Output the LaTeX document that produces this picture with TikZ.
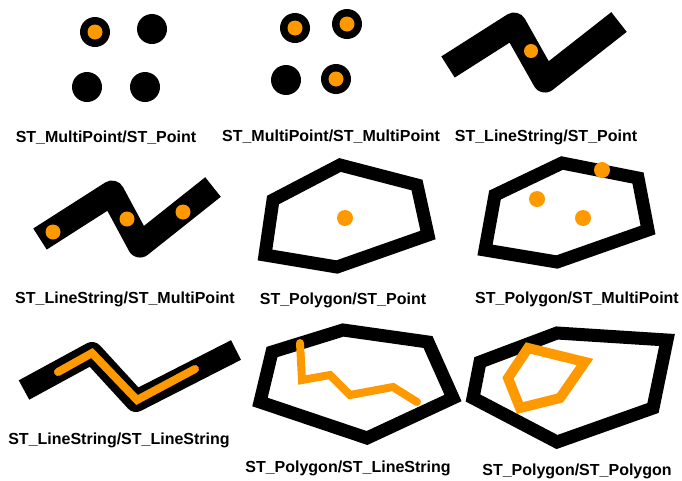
\documentclass[tikz,border=0pt]{standalone}
\usepackage{fontspec}
\setmainfont{Liberation Sans}
\definecolor{hitorange}{HTML}{FF9900}
\tikzset{
  geomline/.style={draw=black, line width=25pt, line cap=butt, line join=round},
  geompoly/.style={draw=black, line width=13pt, line join=miter},
  hitline/.style={draw=hitorange, line width=8pt, line cap=round, line join=miter},
  hitpoly/.style={draw=hitorange, line width=10pt, line join=miter},
  caption/.style={font=\bfseries\fontsize{16}{19}\selectfont, inner sep=0pt, anchor=base}
}

\begin{document}
\begin{tikzpicture}[x=1pt, y=-1pt]
  \fill[white] (0,0) rectangle (682,480);
  \useasboundingbox (0,0) rectangle (682,480);
  % row 1: multipoints
  \foreach \x/\y/\hit in {95/32/1, 152/29/0, 87/87/0, 145/87/0,
                          295/28/1, 347/24/1, 286/80/0, 336/79/1} {
    \fill (\x,\y) circle (15pt);
    \ifnum\hit=1 \fill[hitorange] (\x,\y) circle (7.5pt); \fi
  }
  \node[caption] (capmpp) at (106,142) {ST\_MultiPoint/ST\_Point};
  \node[caption] (capmpm) at (331,141) {ST\_MultiPoint/ST\_MultiPoint};
  % linestring with one point
  \draw[geomline] (448,67) -- (514,25) -- (545,80) -- (619,22);
  \fill[hitorange] (531,51) circle (7pt);
  \node[caption] (caplsp) at (546,141) {ST\_LineString/ST\_Point};
  % row 2: linestring with points
  \draw[geomline] (40,239) -- (112,193) -- (140,245) -- (213,187);
  \foreach \x/\y in {53/232, 127/219, 183/212} \fill[hitorange] (\x,\y) circle (7.5pt);
  \node[caption] (caplsm) at (125,303) {ST\_LineString/ST\_MultiPoint};
  % polygons with points
  \draw[geompoly] (340,165) -- (417,185) -- (428,235) -- (337,267) -- (265,255) -- (273,200) -- cycle;
  \fill[hitorange] (345,218) circle (8pt);
  \node[caption] (cappgp) at (343,304) {ST\_Polygon/ST\_Point};
  \draw[geompoly] (562,163) -- (638,178) -- (648,230) -- (557,262) -- (485,250) -- (495,195) -- cycle;
  \foreach \x/\y in {602/170, 537/199, 583/218} \fill[hitorange] (\x,\y) circle (8pt);
  \node[caption] (cappgm) at (577,303) {ST\_Polygon/ST\_MultiPoint};
  % row 3: linestrings and polygons
  \draw[geomline, line width=22pt] (24,390) -- (92,353) -- (136,401) -- (236,350);
  \draw[hitline] (58,372) -- (92,353) -- (137,400) -- (195,369);
  \node[caption] (caplsl) at (119,444) {ST\_LineString/ST\_LineString};
  \draw[geompoly] (343,330) -- (428,342) -- (453,398) -- (367,438) -- (260,402) -- (272,352) -- cycle;
  \draw[hitline] (300,343) -- (302,380) -- (330,375) -- (350,395) -- (393,387) -- (417,402);
  \node[caption] (cappgl) at (348,472) {ST\_Polygon/ST\_LineString};
  \draw[geompoly] (557,333) -- (667,340) -- (653,408) -- (557,442) -- (473,398) -- (480,362) -- cycle;
  \draw[hitpoly] (528,348) -- (585,362) -- (560,398) -- (520,408) -- (508,378) -- cycle;
  \node[caption] (cappgg) at (577,475) {ST\_Polygon/ST\_Polygon};
\end{tikzpicture}
\end{document}
